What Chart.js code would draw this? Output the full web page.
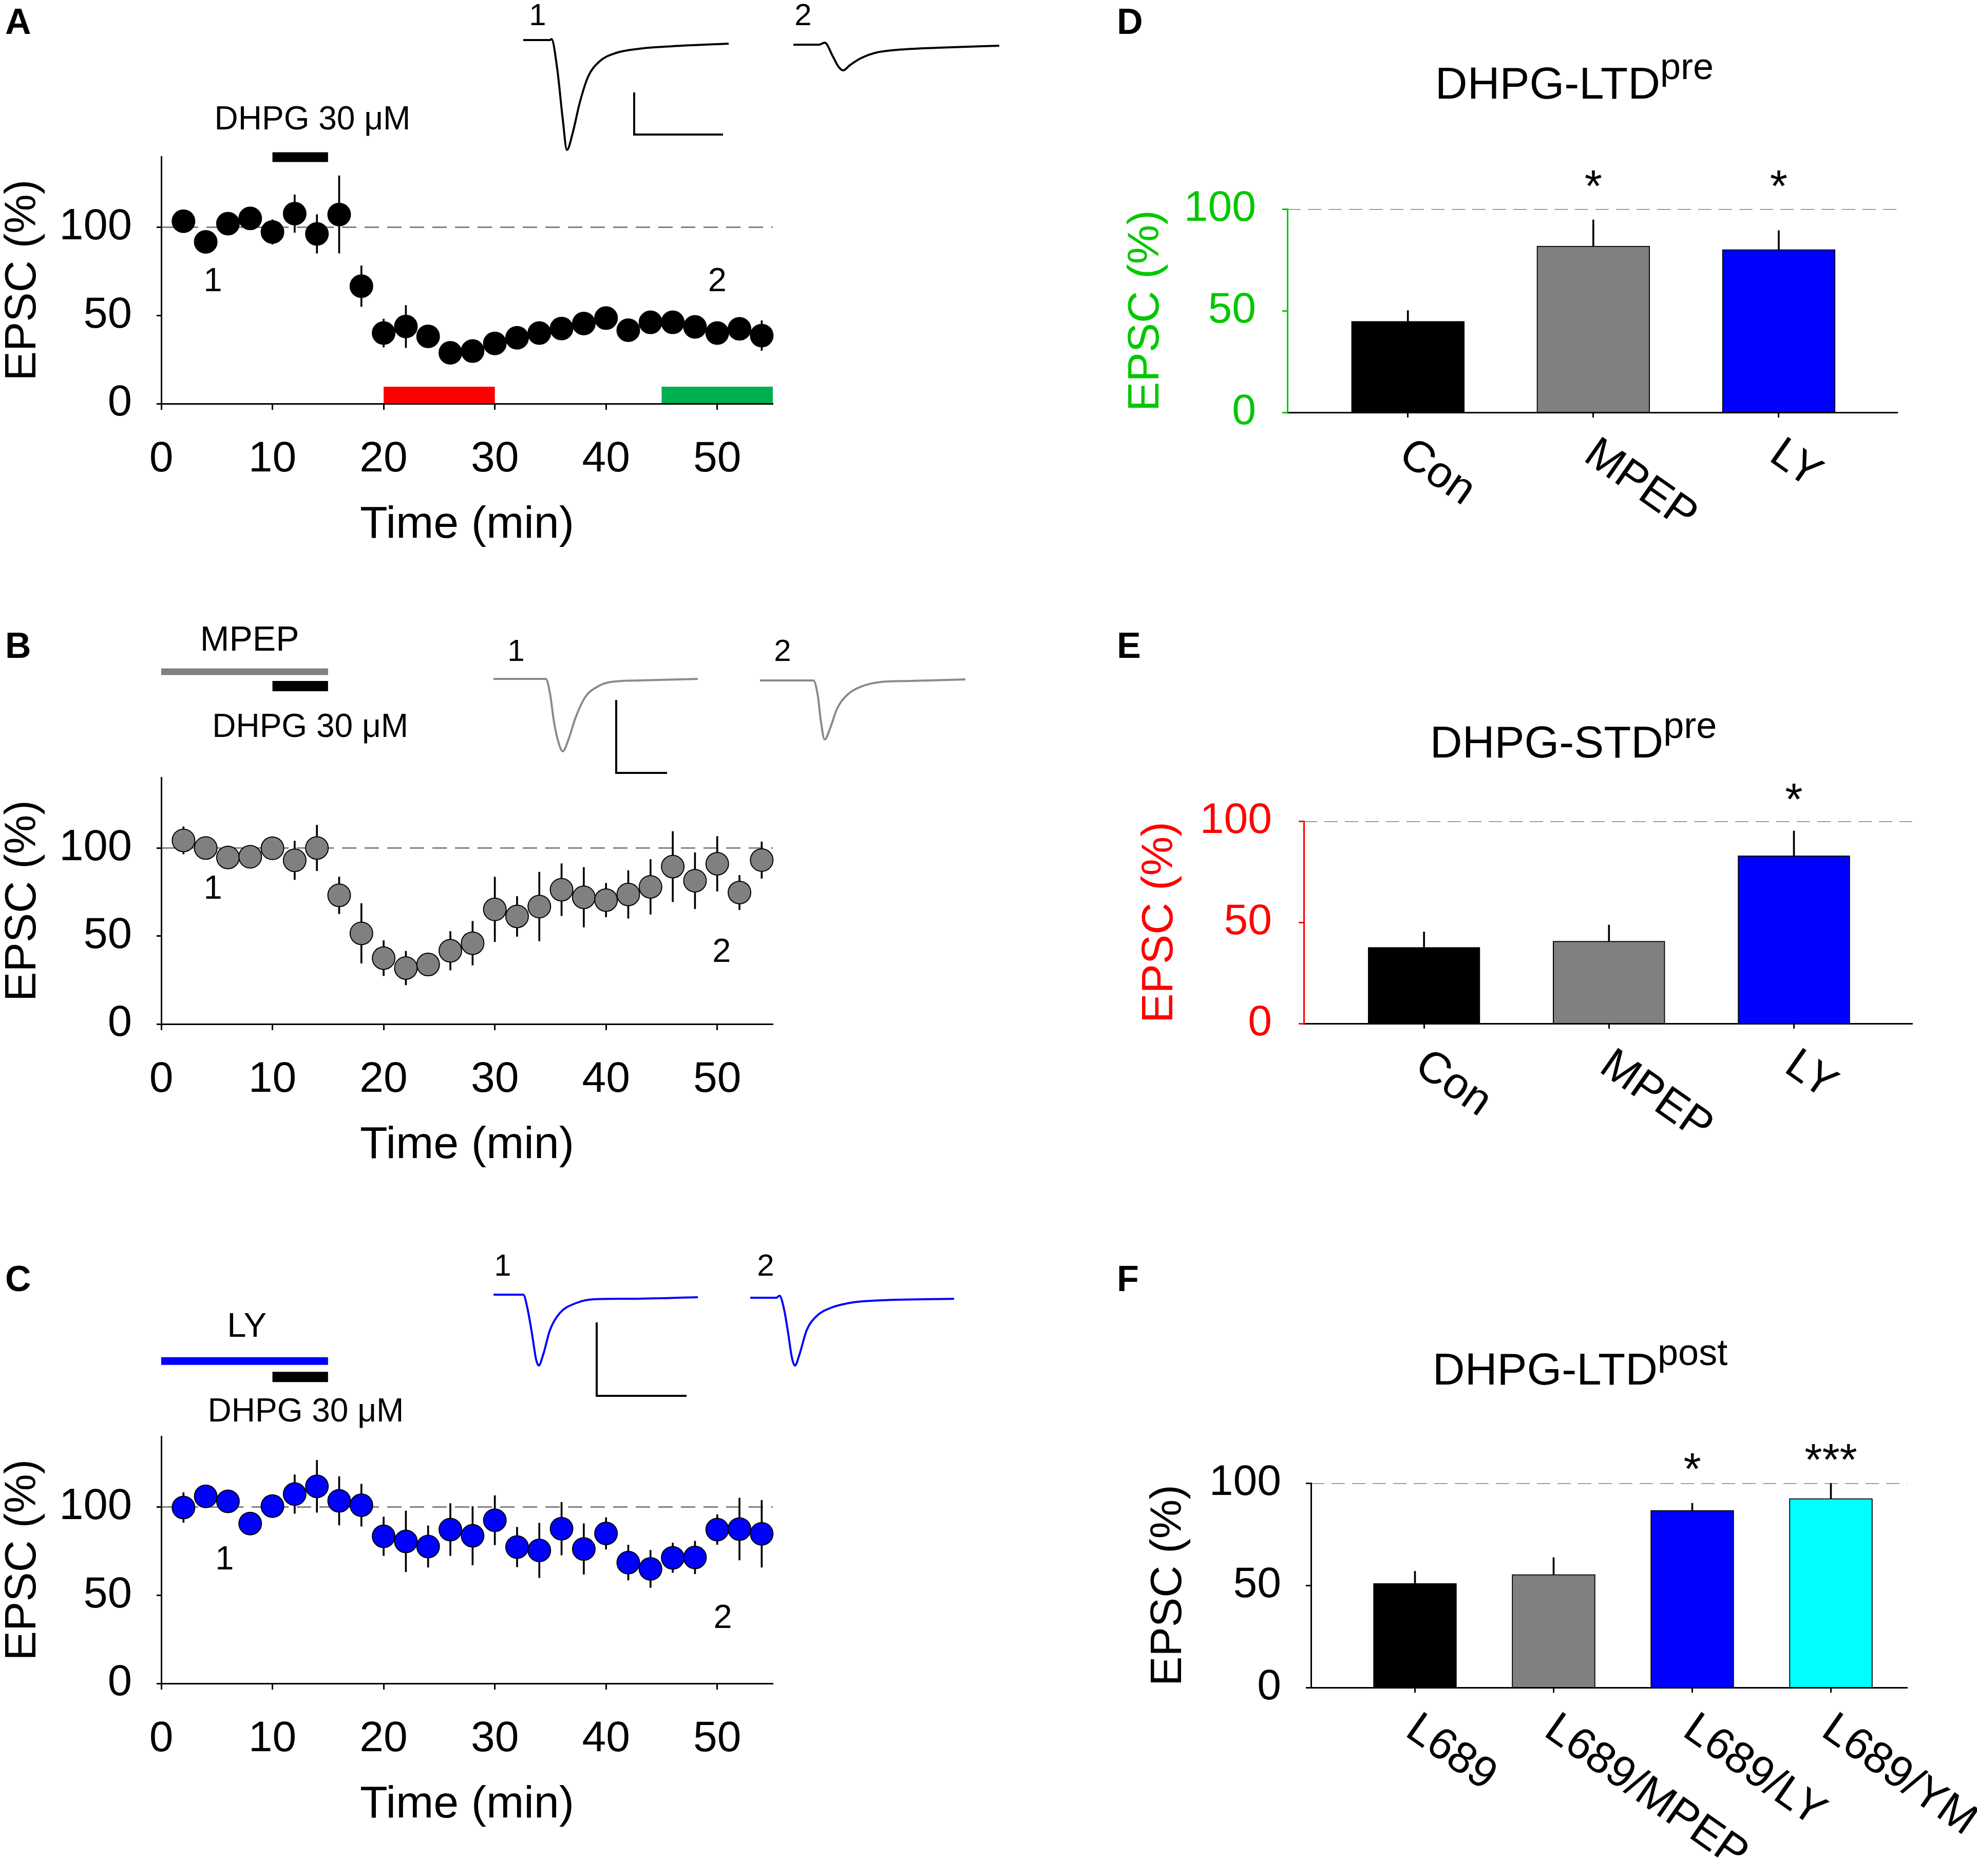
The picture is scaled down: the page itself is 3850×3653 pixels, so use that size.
<!DOCTYPE html>
<html>
<head>
<meta charset="utf-8">
<script src="https://cdn.jsdelivr.net/npm/chart.js@4.4.1/dist/chart.umd.min.js"></script>
<style>
body { margin: 0; background: #fff; }
#page { position: relative; width: 3850px; height: 3653px; background: #fff; font-family: "Liberation Sans", Arial, sans-serif; overflow: hidden; }
canvas { position: absolute; }
.lbl { position: absolute; font-weight: bold; font-size: 70px; line-height: 70px; }
.ttl { position: absolute; width: 1000px; text-align: center; font-size: 87px; line-height: 87px; white-space: nowrap; }
.ttl span { font-size: 72px; position: relative; top: -38px; line-height: 0; }
</style>
</head>
<body>
<div id="page">
  <div class="lbl" style="left:10px;top:7px">A</div>
  <div class="lbl" style="left:10px;top:1222px">B</div>
  <div class="lbl" style="left:10px;top:2455px">C</div>
  <div class="lbl" style="left:2175px;top:7px">D</div>
  <div class="lbl" style="left:2175px;top:1222px">E</div>
  <div class="lbl" style="left:2175px;top:2455px">F</div>
  <div class="ttl" style="left:2566px;top:118px">DHPG-LTD<span>pre</span></div>
  <div class="ttl" style="left:2564px;top:1401px">DHPG-STD<span>pre</span></div>
  <div class="ttl" style="left:2577px;top:2622px">DHPG-LTD<span>post</span></div>
</div>
<script>
const FONT = '"Liberation Sans", Arial, sans-serif';
const NARROW = '"Liberation Sans Narrow", "Liberation Sans", Arial, sans-serif';

// time course (A-C): sweep times in min, EPSC in % of baseline
const timeMin = [2, 4, 6, 8, 10, 12, 14, 16, 18, 20, 22, 24, 26, 28, 30, 32, 34, 36, 38, 40, 42, 44, 46, 48, 50, 52, 54];
const xTicks = [0, 10, 20, 30, 40, 50];
const yTicks = [0, 50, 100];

const dhpgMean = [103.4, 91.7, 102, 105, 97.3, 107.7, 96.2, 107.2, 66.6, 40, 43.7, 38.1, 28.8, 29.8, 34.1, 37.3, 40, 42.6, 45.4, 48.5, 41.6, 46.1, 46.1, 43.5, 40, 42.4, 38.6];
const dhpgSem = [4, 4, 4, 4, 7, 10.7, 11, 22, 11.6, 8, 12, 4, 3, 3, 3, 3, 3, 3, 3, 3, 3, 3, 4, 3, 6, 4, 8.5];

const mpepMean = [104.3, 100, 94.6, 95, 99.8, 93, 100, 73.1, 51.5, 37.4, 31.8, 33.8, 41.6, 45.9, 65.1, 61.1, 66.7, 76.3, 72, 70.4, 73.6, 77.9, 89.4, 81.4, 91, 74.7, 93.1];
const mpepSem = [7.8, 4, 5, 4, 5, 11, 13, 10.5, 17, 10, 9.6, 6, 11, 12.5, 18.4, 11.4, 19.6, 14.8, 17, 9.6, 13.6, 15.6, 20, 16, 15.6, 9.8, 10.4];

const lyMean = [99.7, 106, 103.2, 90.6, 100.5, 107.3, 111.7, 103.5, 101, 83.4, 80.5, 77.6, 87.2, 83.7, 92.5, 77.3, 75.4, 87.7, 76.2, 85, 68.5, 64.9, 71.2, 71.4, 87.2, 87.5, 84.8];
const lySem = [8.5, 5, 5, 4, 5, 11, 14.8, 13.8, 12, 11, 17.3, 11.8, 14.8, 16.6, 14, 11.3, 15.5, 15, 14.4, 9, 10, 10.6, 8.4, 9.3, 8.5, 17.6, 19];

// drug application windows (min)
const dhpgWin = [10, 15];
const antagonistWin = [0, 15];
const earlyWin = [20, 30];
const lateWin = [45, 55];
const baselineSpan = [0, 55];

// example sweeps: time (ms) and current relative to baseline
const sweepA1t = [7.9, 13.1, 13.4, 14.5, 15.6, 16.4, 17.5, 18.9, 20.5, 22.7, 26.0, 30.4, 37.0, 47.9];
const sweepA1i = [0, 0, 2, -55, -155, -214, -182, -122, -72, -42, -25, -17, -12, -7];
const sweepA2t = [60.5, 65.5, 66.6, 68.2, 69.3, 70.2, 71.5, 73.7, 76.4, 80.8, 88.5, 100.6];
const sweepA2i = [-9, -9, -5, -32, -52, -59, -49, -35, -25, -19, -15, -11];
const sweepB1t = [2.1, 12.3, 13.1, 13.9, 14.8, 15.6, 16.7, 18.1, 20.0, 22.2, 24.9, 30.4, 41.9];
const sweepB1i = [0, 0, -28, -85, -125, -141, -118, -75, -35, -16, -6, -3, 0];
const sweepB2t = [54.0, 64.4, 65.3, 65.8, 66.6, 67.7, 69.0, 71.0, 73.7, 77.5, 83.0, 94.0];
const sweepB2i = [-3, -3, -35, -78, -118, -95, -58, -31, -15, -6, -4, -1];
const sweepC1t = [2.1, 7.9, 8.7, 9.6, 10.4, 10.9, 11.8, 13.1, 15.0, 18.3, 21.6, 28.2, 41.9];
const sweepC1i = [0, 0, -26, -76, -126, -138, -116, -69, -36, -16, -9, -8, -5];
const sweepC2t = [52.1, 57.2, 57.8, 58.7, 59.5, 60.2, 60.8, 61.7, 63.1, 65.0, 67.7, 72.1, 77.5, 91.8];
const sweepC2i = [-6, -6, -2, -29, -76, -122, -138, -116, -69, -42, -26, -15, -11, -8];
// scale bars (corner points, same units)
const barA_t = [29.5, 29.5, 46.8];
const barA_i = [-102, -184, -184];
const barB_t = [26.0, 26.0, 35.9];
const barB_i = [-41, -183, -183];
const barC_t = [22.2, 22.2, 39.7];
const barC_i = [-54, -197, -197];

// summary bars (D-F)
const preGroups = ['Con', 'MPEP', 'LY'];
const ltdPreMean = [44.8, 81.8, 80.1];
const ltdPreSem = [5.3, 12.9, 9.3];
const ltdPreSig = ['', '*', '*'];
const stdPreMean = [37.7, 40.7, 82.9];
const stdPreSem = [7.6, 8.0, 12.3];
const stdPreSig = ['', '', '*'];
const postGroups = ['L689', 'L689/MPEP', 'L689/LY', 'L689/YM'];
const ltdPostMean = [50.9, 55.3, 86.7, 92.5];
const ltdPostSem = [6.0, 8.3, 3.5, 7.5];
const ltdPostSig = ['', '', '*', '***'];

Chart.defaults.font.family = FONT;
Chart.defaults.color = '#000';
Chart.defaults.animation = false;
Chart.defaults.events = [];
Chart.defaults.plugins.legend.display = false;
Chart.defaults.plugins.tooltip.enabled = false;

function place(id, box) {
    const c = document.createElement('canvas');
    c.id = id;
    c.width = box.w;
    c.height = box.h;
    c.style.left = box.left + 'px';
    c.style.top = box.top + 'px';
    c.style.width = box.w + 'px';
    c.style.height = box.h + 'px';
    document.getElementById('page').appendChild(c);
    return c;
}

// text placed at data coordinates
function textLayer(items) {
    return {
        id: 'textLayer',
        afterDatasetsDraw(chart) {
            const { ctx, scales } = chart;
            ctx.save();
            ctx.textAlign = 'center';
            ctx.textBaseline = 'middle';
            ctx.fillStyle = '#000';
            items.forEach(n => {
                ctx.font = n.size + 'px ' + (n.family || FONT);
                ctx.fillText(n.text, scales.x.getPixelForValue(n.x), scales.y.getPixelForValue(n.y));
            });
            ctx.restore();
        }
    };
}

function pairs(xs, ys) {
    return xs.map((v, i) => ({ x: v, y: ys[i] }));
}

// thick horizontal bar marking a drug window
function band(win, level, color, width) {
    return {
        type: 'line', showLine: true, data: win.map(t => ({ x: t, y: level })),
        borderColor: color, borderWidth: width, borderCapStyle: 'butt',
        pointRadius: 0, clip: false, order: 5
    };
}

function timeCourse(id, box, mean, sem, dot, bands, notes) {
    new Chart(place(id, box), {
        type: 'scatter',
        data: {
            datasets: [
                {
                    data: pairs(timeMin, mean), pointRadius: 22, pointBackgroundColor: dot,
                    pointBorderColor: '#000', pointBorderWidth: 2, clip: false, order: 0
                },
                {
                    type: 'bar', data: timeMin.map((t, i) => ({ x: t, y: [mean[i] - sem[i], mean[i] + sem[i]] })),
                    backgroundColor: '#000', borderWidth: 0, barThickness: 3, grouped: false, order: 1
                },
                {
                    type: 'line', showLine: true, data: baselineSpan.map(t => ({ x: t, y: 100 })),
                    borderColor: '#808080', borderWidth: 3, borderDash: [28, 16], pointRadius: 0, order: 2
                },
                ...bands
            ]
        },
        options: {
            responsive: false,
            devicePixelRatio: 1,
            layout: { padding: { left: 0, top: box.padTop, right: 95, bottom: 0 } },
            scales: {
                x: {
                    type: 'linear', min: 0, max: 55, offset: false,
                    afterBuildTicks: s => { s.ticks = xTicks.map(v => ({ value: v })); },
                    afterFit: s => { s.height = 314; },
                    grid: { display: true, offset: false, drawOnChartArea: false, tickLength: 12, tickWidth: 3, tickColor: '#000' },
                    border: { display: true, color: '#000', width: 3, z: 1 },
                    ticks: { color: '#000', font: { size: 84 }, padding: 46, maxRotation: 0, autoSkip: false },
                    title: { display: true, text: 'Time (min)', color: '#000', font: { size: 88 }, padding: { top: 0, bottom: 24 } }
                },
                y: {
                    type: 'linear', min: 0, max: 140,
                    afterBuildTicks: s => { s.ticks = yTicks.map(v => ({ value: v })); },
                    afterFit: s => { s.width = 314; },
                    grid: { display: true, drawOnChartArea: false, tickLength: 9, tickWidth: 3, tickColor: '#000' },
                    border: { display: true, color: '#000', width: 3, z: 1 },
                    ticks: { color: '#000', font: { size: 85 }, padding: 48 },
                    title: { display: true, text: 'EPSC (%)', color: '#000', font: { size: 86, lineHeight: 1.05 }, padding: { top: 0, bottom: 0 } }
                }
            }
        },
        plugins: [textLayer(notes)]
    });
}

function sweeps(id, box, range, color, traces, scaleBar, notes) {
    const sets = traces.map(tr => ({
        type: 'line', showLine: true, data: pairs(tr[0], tr[1]), borderColor: color, borderWidth: 4,
        pointRadius: 0, cubicInterpolationMode: 'monotone', clip: false
    }));
    sets.push({
        type: 'line', showLine: true, data: pairs(scaleBar[0], scaleBar[1]), borderColor: '#000',
        borderWidth: 4, pointRadius: 0, tension: 0, clip: false
    });
    new Chart(place(id, box), {
        type: 'scatter',
        data: { datasets: sets },
        options: {
            responsive: false,
            devicePixelRatio: 1,
            layout: { padding: 0 },
            scales: {
                x: { type: 'linear', display: false, min: 0, max: 110 },
                y: { type: 'linear', display: false, min: range[0], max: range[1] }
            }
        },
        plugins: [textLayer(notes)]
    });
}

// category labels slanted downwards plus significance stars
function barText(names, sig, starLevel) {
    return {
        id: 'barText',
        afterDraw(chart) {
            const { ctx, scales: { x, y } } = chart;
            ctx.save();
            ctx.fillStyle = '#000';
            ctx.font = '86px ' + FONT;
            ctx.textAlign = 'left';
            ctx.textBaseline = 'alphabetic';
            names.forEach((n, i) => {
                ctx.save();
                ctx.translate(x.getPixelForValue(i) - 22, x.top + 92);
                ctx.rotate(35 * Math.PI / 180);
                ctx.fillText(n, 0, 0);
                ctx.restore();
            });
            ctx.font = '88px ' + FONT;
            ctx.textAlign = 'center';
            sig.forEach((s, i) => {
                if (!s) return;
                ctx.fillText(s, x.getPixelForValue(i), y.getPixelForValue(starLevel[i]) + 0.57 * 88);
            });
            ctx.restore();
        }
    };
}

function barPanel(id, box, names, mean, sem, fills, sig, look) {
    new Chart(place(id, box), {
        type: 'scatter',
        data: {
            datasets: [
                {
                    type: 'line', showLine: true, data: look.range.map(v => ({ x: v, y: 100 })),
                    borderColor: '#808080', borderWidth: 3, borderDash: [26, 14], pointRadius: 0, order: 3
                },
                {
                    type: 'bar', data: mean.map((m, i) => ({ x: i, y: [m, m + sem[i]] })),
                    backgroundColor: '#000', borderWidth: 0, barThickness: 3, grouped: false, order: 2
                },
                {
                    type: 'bar', data: mean.map((m, i) => ({ x: i, y: m })),
                    backgroundColor: fills, borderColor: '#000', borderWidth: 2,
                    barThickness: look.bar, grouped: false, order: 1
                }
            ]
        },
        options: {
            responsive: false,
            devicePixelRatio: 1,
            layout: { padding: { left: 0, top: box.padTop, right: box.padRight, bottom: 0 } },
            scales: {
                x: {
                    type: 'linear', min: look.range[0], max: look.range[1], offset: false,
                    afterBuildTicks: s => { s.ticks = names.map((n, i) => ({ value: i })); },
                    afterFit: s => { s.height = look.xHeight; },
                    grid: { display: true, offset: false, drawOnChartArea: false, tickLength: 10, tickWidth: 3, tickColor: '#000' },
                    border: { display: true, color: '#000', width: 3, z: 1 },
                    ticks: { display: false }
                },
                y: {
                    type: 'linear', min: 0, max: 100,
                    afterBuildTicks: s => { s.ticks = yTicks.map(v => ({ value: v })); },
                    afterFit: s => { s.width = look.yWidth; },
                    grid: { display: true, drawOnChartArea: false, tickLength: 10, tickWidth: 3, tickColor: look.axis },
                    border: { display: true, color: look.axis, width: 3, z: 1 },
                    ticks: { color: look.axis, font: { size: 84 }, padding: look.tickPad },
                    title: { display: true, text: 'EPSC (%)', color: look.axis, font: { size: 86 }, padding: { top: look.titlePad, bottom: 0 } }
                }
            }
        },
        plugins: [barText(names, sig, look.stars)]
    });
}

// ---- A ----
timeCourse('chartA', { left: 0, top: 180, w: 1600, h: 920, padTop: 125 }, dhpgMean, dhpgSem, '#000000', [
    band(dhpgWin, 139.7, '#000000', 19),
    band(earlyWin, 4.8, '#FF0000', 33),
    band(lateWin, 4.8, '#00B050', 33)
], [
    { text: 'DHPG 30 \u03bcM', x: 13.6, y: 160.6, size: 64 },
    { text: '1', x: 4.65, y: 69, size: 65, family: NARROW },
    { text: '2', x: 50, y: 69, size: 65, family: NARROW }
]);
sweeps('sweepA', { left: 940, top: 0, w: 1100, h: 330 }, [-252, 78], '#000000',
    [[sweepA1t, sweepA1i], [sweepA2t, sweepA2i]], [barA_t, barA_i], [
        { text: '1', x: 10.7, y: 46, size: 60, family: NARROW },
        { text: '2', x: 62.4, y: 46, size: 60, family: NARROW }
    ]);

// ---- B ----
timeCourse('chartB', { left: 0, top: 1200, w: 1600, h: 1108, padTop: 314 }, mpepMean, mpepSem, '#808080', [
    band(antagonistWin, 200.1, '#808080', 13),
    band(dhpgWin, 191.9, '#000000', 20)
], [
    { text: 'MPEP', x: 7.95, y: 217.5, size: 68 },
    { text: 'DHPG 30 \u03bcM', x: 13.4, y: 168.2, size: 64 },
    { text: '1', x: 4.65, y: 76.4, size: 65, family: NARROW },
    { text: '2', x: 50.4, y: 40.4, size: 65, family: NARROW }
]);
sweeps('sweepB', { left: 940, top: 1200, w: 1100, h: 330 }, [-208, 122], '#8a8a8a',
    [[sweepB1t, sweepB1i], [sweepB2t, sweepB2i]], [barB_t, barB_i], [
        { text: '1', x: 6.5, y: 52, size: 60, family: NARROW },
        { text: '2', x: 58.4, y: 52, size: 60, family: NARROW }
    ]);

// ---- C ----
timeCourse('chartC', { left: 0, top: 2530, w: 1600, h: 1062, padTop: 267 }, lyMean, lySem, '#0000FF', [
    band(antagonistWin, 182.7, '#0000FF', 15),
    band(dhpgWin, 173.7, '#000000', 20)
], [
    { text: 'LY', x: 7.7, y: 201.9, size: 67 },
    { text: 'DHPG 30 \u03bcM', x: 13.0, y: 153.7, size: 64 },
    { text: '1', x: 5.7, y: 69.8, size: 65, family: NARROW },
    { text: '2', x: 50.5, y: 36.6, size: 65, family: NARROW }
]);
sweeps('sweepC', { left: 940, top: 2420, w: 1100, h: 330 }, [-229, 101], '#0000FF',
    [[sweepC1t, sweepC1i], [sweepC2t, sweepC2i]], [barC_t, barC_i], [
        { text: '1', x: 3.9, y: 54, size: 60, family: NARROW },
        { text: '2', x: 55.1, y: 54, size: 60, family: NARROW }
    ]);

// ---- D, E, F ----
barPanel('chartD', { left: 2150, top: 300, w: 1700, h: 820, padTop: 107, padRight: 155 },
    preGroups, ltdPreMean, ltdPreSem, ['#000000', '#808080', '#0000FF'], ltdPreSig,
    { range: [-0.65, 2.64], bar: 220, xHeight: 317, yWidth: 357, tickPad: 51, titlePad: 31, axis: '#00C800', stars: [0, 116.5, 116.5] });

barPanel('chartE', { left: 2150, top: 1480, w: 1700, h: 820, padTop: 119, padRight: 126 },
    preGroups, stdPreMean, stdPreSem, ['#000000', '#808080', '#0000FF'], stdPreSig,
    { range: [-0.65, 2.64], bar: 218, xHeight: 307, yWidth: 389, tickPad: 52, titlePad: 58, axis: '#FF0000', stars: [0, 0, 116] });

barPanel('chartF', { left: 2150, top: 2780, w: 1700, h: 873, padTop: 108, padRight: 136 },
    postGroups, ltdPostMean, ltdPostSem, ['#000000', '#808080', '#0000FF', '#00FFFF'], ltdPostSig,
    { range: [-0.75, 3.55], bar: 162, xHeight: 367, yWidth: 403, tickPad: 48, titlePad: 75, axis: '#000000', stars: [0, 0, 112, 116.5] });
</script>
</body>
</html>
